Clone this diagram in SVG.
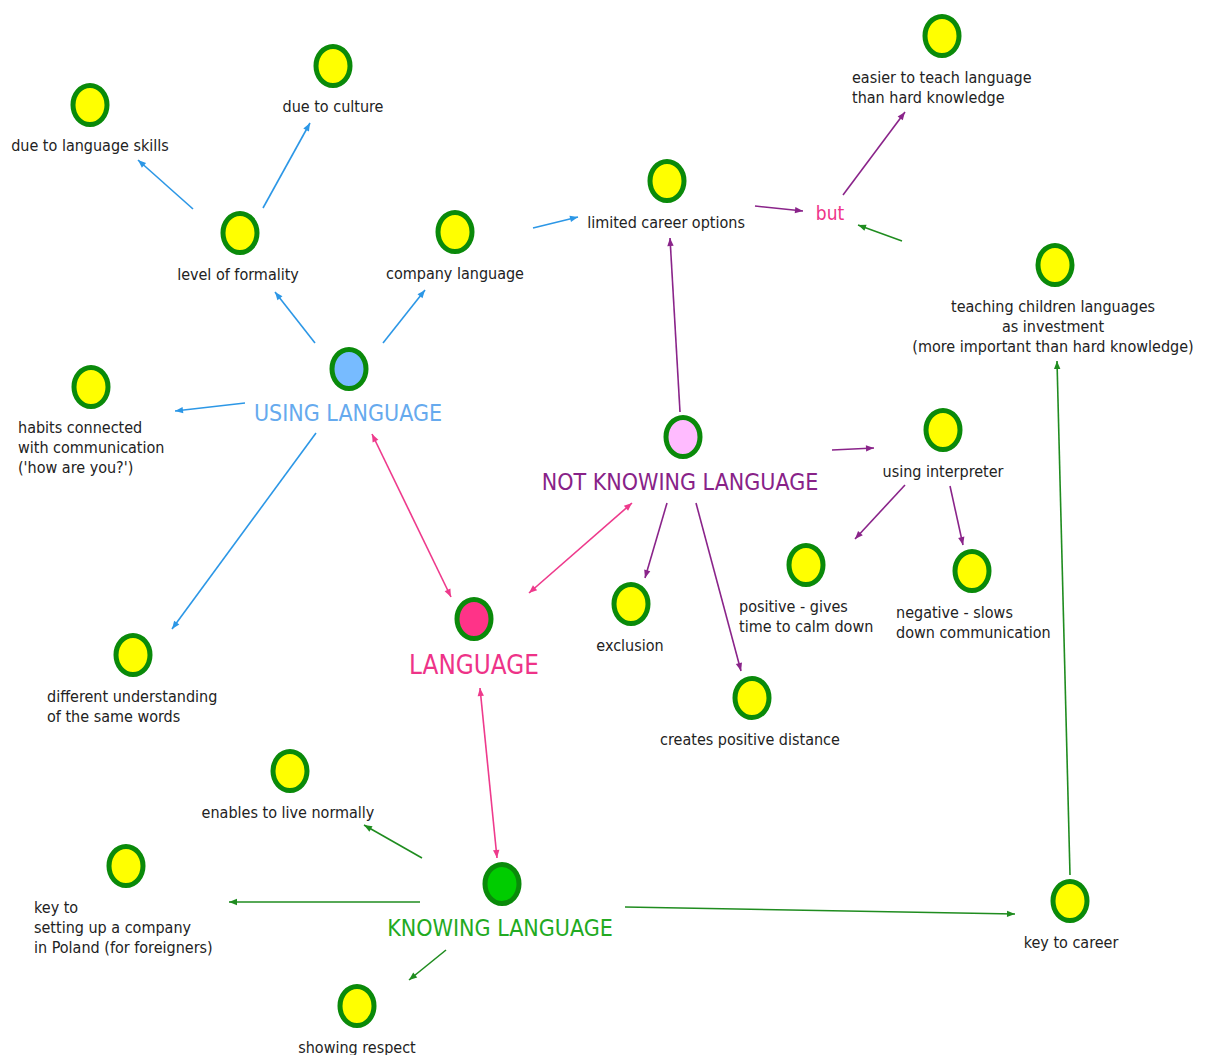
<svg xmlns="http://www.w3.org/2000/svg" width="1205" height="1055" viewBox="0 0 1205 1055">
<defs>
<style>
text{font-family:"DejaVu Sans Condensed","DejaVu Sans",sans-serif;font-stretch:condensed;font-size:16px;fill:#222}
.c{text-anchor:middle}
.big{font-size:23px}
.node{stroke:#0a8a0a;stroke-width:5}
.y{fill:#ffff00}
.ln{fill:none;stroke-width:1.6}
.b{stroke:#2c97e6}
.p{stroke:#ee3a8c}
.v{stroke:#8a248a}
.g{stroke:#1f8c1f}
</style>
<marker id="ab" viewBox="0 0 10 10" refX="10" refY="5" markerWidth="10" markerHeight="8" markerUnits="userSpaceOnUse" orient="auto"><path d="M0,1 L10,5 L0,9 Z" fill="#2c97e6"/></marker>
<marker id="ap" viewBox="0 0 10 10" refX="10" refY="5" markerWidth="10" markerHeight="8" markerUnits="userSpaceOnUse" orient="auto"><path d="M0,1 L10,5 L0,9 Z" fill="#ee3a8c"/></marker>
<marker id="aps" viewBox="0 0 10 10" refX="0" refY="5" markerWidth="10" markerHeight="8" markerUnits="userSpaceOnUse" orient="auto"><path d="M10,1 L0,5 L10,9 Z" fill="#ee3a8c"/></marker>
<marker id="av" viewBox="0 0 10 10" refX="10" refY="5" markerWidth="10" markerHeight="8" markerUnits="userSpaceOnUse" orient="auto"><path d="M0,1 L10,5 L0,9 Z" fill="#8a248a"/></marker>
<marker id="ag" viewBox="0 0 10 10" refX="10" refY="5" markerWidth="10" markerHeight="8" markerUnits="userSpaceOnUse" orient="auto"><path d="M0,1 L10,5 L0,9 Z" fill="#1f8c1f"/></marker>
</defs>
<rect width="1205" height="1055" fill="#ffffff"/>
<g id="connectors">
<line class="ln b" x1="193" y1="209" x2="138" y2="160" marker-end="url(#ab)"/>
<line class="ln b" x1="263" y1="208" x2="310" y2="123" marker-end="url(#ab)"/>
<line class="ln b" x1="315" y1="343" x2="275" y2="292" marker-end="url(#ab)"/>
<line class="ln b" x1="383" y1="343" x2="425" y2="290" marker-end="url(#ab)"/>
<line class="ln b" x1="245" y1="403" x2="175" y2="411" marker-end="url(#ab)"/>
<line class="ln b" x1="316" y1="433" x2="172" y2="629" marker-end="url(#ab)"/>
<line class="ln b" x1="533" y1="228" x2="578" y2="217" marker-end="url(#ab)"/>
<line class="ln p" x1="372" y1="434" x2="451" y2="597" marker-start="url(#aps)" marker-end="url(#ap)"/>
<line class="ln p" x1="529" y1="593" x2="632" y2="503" marker-start="url(#aps)" marker-end="url(#ap)"/>
<line class="ln p" x1="480" y1="688" x2="497" y2="858" marker-start="url(#aps)" marker-end="url(#ap)"/>
<line class="ln v" x1="755" y1="206" x2="803" y2="211" marker-end="url(#av)"/>
<line class="ln v" x1="680" y1="412" x2="670" y2="238" marker-end="url(#av)"/>
<line class="ln v" x1="843" y1="195" x2="905" y2="112" marker-end="url(#av)"/>
<line class="ln v" x1="832" y1="450" x2="874" y2="448" marker-end="url(#av)"/>
<line class="ln v" x1="905" y1="485" x2="855" y2="539" marker-end="url(#av)"/>
<line class="ln v" x1="950" y1="486" x2="963" y2="545" marker-end="url(#av)"/>
<line class="ln v" x1="667" y1="503" x2="645" y2="578" marker-end="url(#av)"/>
<line class="ln v" x1="696" y1="503" x2="741" y2="671" marker-end="url(#av)"/>
<line class="ln g" x1="902" y1="241" x2="858" y2="225" marker-end="url(#ag)"/>
<line class="ln g" x1="422" y1="858" x2="364" y2="825" marker-end="url(#ag)"/>
<line class="ln g" x1="420" y1="902" x2="229" y2="902" marker-end="url(#ag)"/>
<line class="ln g" x1="625" y1="907" x2="1015" y2="914" marker-end="url(#ag)"/>
<line class="ln g" x1="446" y1="950" x2="409" y2="980" marker-end="url(#ag)"/>
<line class="ln g" x1="1070" y1="875" x2="1057" y2="361" marker-end="url(#ag)"/>
</g>
<g id="n-skills"><ellipse class="node y" cx="90" cy="105" rx="17" ry="19.5"/><text class="c" x="90" y="151">due to language skills</text></g>
<g id="n-culture"><ellipse class="node y" cx="333" cy="66" rx="17" ry="19.5"/><text class="c" x="333" y="112">due to culture</text></g>
<g id="n-formality"><ellipse class="node y" cx="240" cy="233" rx="17" ry="19.5"/><text class="c" x="238" y="280">level of formality</text></g>
<g id="n-company"><ellipse class="node y" cx="455" cy="232" rx="17" ry="19.5"/><text class="c" x="455" y="279">company language</text></g>
<g id="n-using"><ellipse class="node" fill="#77bbff" cx="349" cy="369" rx="17" ry="19.5"/><text class="c big" x="348" y="421" style="fill:#66aaee">USING LANGUAGE</text></g>
<g id="n-habits"><ellipse class="node y" cx="91" cy="387" rx="17" ry="19.5"/><text x="18" y="433">habits connected</text><text x="18" y="453">with communication</text><text x="18" y="473">('how are you?')</text></g>
<g id="n-different"><ellipse class="node y" cx="133" cy="655" rx="17" ry="19.5"/><text x="47" y="702">different understanding</text><text x="47" y="722">of the same words</text></g>
<g id="n-language"><ellipse class="node" fill="#ff3388" cx="474" cy="619" rx="17" ry="19.5"/><text class="c big" x="474" y="674" style="fill:#ee3388;font-size:25.8px">LANGUAGE</text></g>
<g id="n-limited"><ellipse class="node y" cx="667" cy="181" rx="17" ry="19.5"/><text class="c" x="666" y="228">limited career options</text></g>
<g id="n-but"><text class="c" x="830" y="220" style="fill:#ee3388;font-size:19px">but</text></g>
<g id="n-easier"><ellipse class="node y" cx="942" cy="36" rx="17" ry="19.5"/><text x="852" y="83">easier to teach language</text><text x="852" y="103">than hard knowledge</text></g>
<g id="n-teaching"><ellipse class="node y" cx="1055" cy="265" rx="17" ry="19.5"/><text class="c" x="1053" y="312">teaching children languages</text><text class="c" x="1053" y="332">as investment</text><text class="c" x="1053" y="352">(more important than hard knowledge)</text></g>
<g id="n-notknowing"><ellipse class="node" fill="#ffbbff" cx="683" cy="437" rx="17" ry="19.5"/><text class="c big" x="680" y="490" style="fill:#882288">NOT KNOWING LANGUAGE</text></g>
<g id="n-interpreter"><ellipse class="node y" cx="943" cy="430" rx="17" ry="19.5"/><text class="c" x="943" y="477">using interpreter</text></g>
<g id="n-positive"><ellipse class="node y" cx="806" cy="565" rx="17" ry="19.5"/><text x="739" y="612">positive - gives</text><text x="739" y="632">time to calm down</text></g>
<g id="n-negative"><ellipse class="node y" cx="972" cy="571" rx="17" ry="19.5"/><text x="896" y="618">negative - slows</text><text x="896" y="638">down communication</text></g>
<g id="n-exclusion"><ellipse class="node y" cx="631" cy="604" rx="17" ry="19.5"/><text class="c" x="630" y="651">exclusion</text></g>
<g id="n-distance"><ellipse class="node y" cx="752" cy="698" rx="17" ry="19.5"/><text class="c" x="750" y="745">creates positive distance</text></g>
<g id="n-live"><ellipse class="node y" cx="290" cy="771" rx="17" ry="19.5"/><text class="c" x="288" y="818">enables to live normally</text></g>
<g id="n-keycompany"><ellipse class="node y" cx="126" cy="866" rx="17" ry="19.5"/><text x="34" y="913">key to</text><text x="34" y="933">setting up a company</text><text x="34" y="953">in Poland (for foreigners)</text></g>
<g id="n-knowing"><ellipse class="node" fill="#00cc00" cx="502" cy="884" rx="17" ry="19.5"/><text class="c big" x="500" y="936" style="fill:#22aa22">KNOWING LANGUAGE</text></g>
<g id="n-respect"><ellipse class="node y" cx="357" cy="1006" rx="17" ry="19.5"/><text class="c" x="357" y="1053">showing respect</text></g>
<g id="n-career"><ellipse class="node y" cx="1070" cy="901" rx="17" ry="19.5"/><text class="c" x="1071" y="948">key to career</text></g>
</svg>
